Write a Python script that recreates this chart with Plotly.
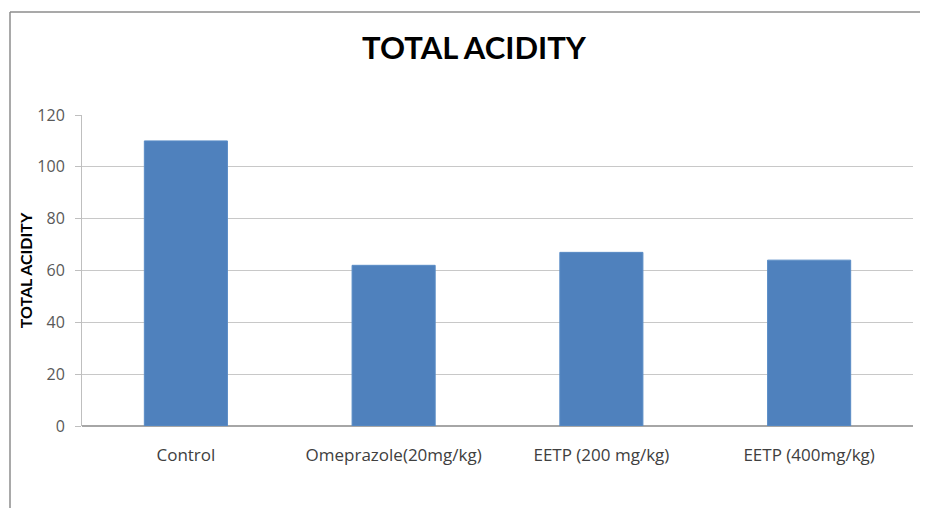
import plotly.graph_objects as go

categories = ["Control", "Omeprazole(20mg/kg)", "EETP (200 mg/kg)", "EETP (400mg/kg)"]
values = [110, 62, 67, 64]
y_ticks = [0, 20, 40, 60, 80, 100, 120]

# page has an 8px body margin; figure sized to fill the rest of the window
W, H = 920, 500
L, R, T, B = 74, 15, 107, 82
pw, ph = W - L - R, H - T - B

fig = go.Figure(go.Bar(
    x=categories, y=values,
    marker=dict(color="#4F81BD", line=dict(color="#5A8CC6", width=1)),
    width=0.4,
))

def px_x(p):
    return (p - L) / pw

def px_y(p):
    return (H - B - p) / ph

fig.update_layout(
    width=W, height=H,
    margin=dict(l=L, r=R, t=T, b=B),
    paper_bgcolor="white", plot_bgcolor="white",
    showlegend=False,
    font=dict(family="Open Sans, sans-serif", color="#595959", size=16),
    title=dict(text="<b>TOTAL ACIDITY</b>", x=466 / W, xanchor="center",
               y=1 - 40 / H, yanchor="middle",
               font=dict(size=31, color="#000000", family="Lato, sans-serif")),
    xaxis=dict(showgrid=False, showline=False, ticks="",
               ticklabelstandoff=17,
               tickfont=dict(size=17, color="#404040", family="Open Sans, sans-serif")),
    yaxis=dict(range=[0, 120], tickvals=y_ticks, showgrid=True, gridcolor="#C8C8C8",
               gridwidth=1, showline=True, linecolor="#BFBFBF", linewidth=1,
               ticks="outside", ticklen=6, tickcolor="#BFBFBF",
               ticklabelstandoff=7,
               tickfont=dict(size=16, color="#595959", family="Open Sans, sans-serif"),
               zeroline=True, zerolinecolor="#A6A6A6",
               title=dict(text="<b>TOTAL ACIDITY</b>", standoff=0,
                          font=dict(size=16, color="#000000", family="Lato, sans-serif"))),
    shapes=[
        dict(type="line", xref="paper", yref="paper", x0=px_x(2), x1=px_x(W + 10),
             y0=px_y(4), y1=px_y(4), line=dict(color="#8C8C8C", width=1.5)),
        dict(type="line", xref="paper", yref="paper", x0=px_x(2), x1=px_x(2),
             y0=px_y(4), y1=px_y(H + 10), line=dict(color="#8C8C8C", width=1.5)),
    ],
)

fig.write_html("out.html")
